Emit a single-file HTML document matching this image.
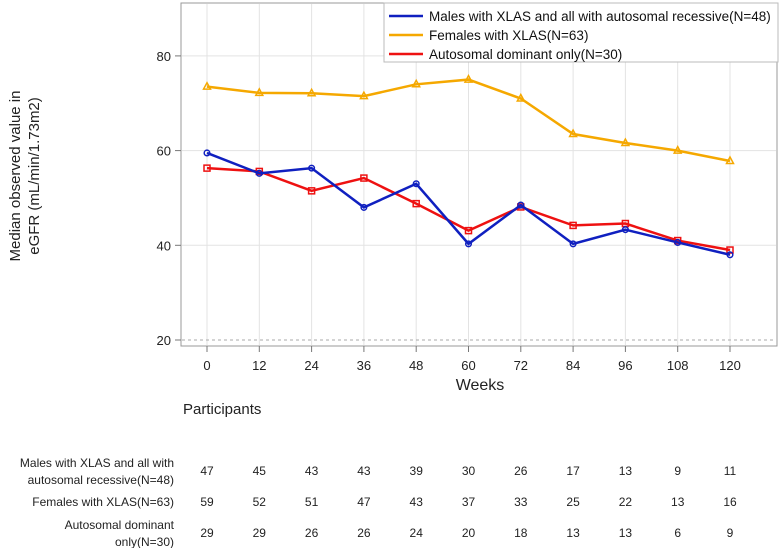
<!DOCTYPE html>
<html><head><meta charset="utf-8"><style>
body{margin:0;background:#fff;}
svg{display:block;font-family:"Liberation Sans",Arial,sans-serif;}
</style></head><body>
<svg id="c" width="782" height="548"></svg>
<script>
const weeks=[0,12,24,36,48,60,72,84,96,108,120];
const yTicks=[20,40,60,80];
const males=[59.5,55.2,56.3,48,53,40.3,48.5,40.3,43.3,40.6,38];
const females=[73.5,72.2,72.1,71.5,74,75,71,63.5,61.6,60,57.8];
const dominant=[56.3,55.6,51.5,54.2,48.8,43.1,48.1,44.2,44.6,41,39];
const nMales=[47,45,43,43,39,30,26,17,13,9,11];
const nFemales=[59,52,51,47,43,37,33,25,22,13,16];
const nDominant=[29,29,26,26,24,20,18,13,13,6,9];
const seriesNames=["Males with XLAS and all with autosomal recessive(N=48)","Females with XLAS(N=63)","Autosomal dominant only(N=30)"];

const NS="http://www.w3.org/2000/svg";
const svg=document.getElementById('c');
const X=w=>207+w*(523/120);
const Y=v=>340-(v-20)*4.735;
function el(t,a,p){const e=document.createElementNS(NS,t);for(const k in a)e.setAttribute(k,a[k]);(p||svg).appendChild(e);return e;}
function txt(s,a,p){const e=el('text',a,p);e.textContent=s;return e;}

// plot frame & grid
const frame=el('rect',{x:181,y:3,width:596,height:343,fill:'#fff',stroke:'#999','stroke-width':1});


weeks.forEach(w=>{
  const g=el('line',{x1:X(w),x2:X(w),y1:4,y2:345,stroke:'#e3e3e3'});
  
  
  const t=el('line',{x1:X(w),x2:X(w),y1:346,y2:352,stroke:'#777'});
  
  
  const l=txt(String(w),{x:X(w),y:370,'text-anchor':'middle','font-size':13,fill:'#222'});
  
  
});
yTicks.forEach(v=>{
  const g=el('line',{x1:182,x2:776,y1:Y(v),y2:Y(v),stroke:v===20?'#aaa':'#e3e3e3','stroke-dasharray':v===20?'3,3':'none'});
  
  
  const t=el('line',{x1:175,x2:181,y1:Y(v),y2:Y(v),stroke:'#777'});
  
  
  const l=txt(String(v),{x:171,y:Y(v)+5,'text-anchor':'end','font-size':13,fill:'#222'});
  
  
});
const xt=txt('Weeks',{x:480,y:390,'text-anchor':'middle','font-size':16,fill:'#222'});


const yt=txt('',{transform:'translate(20,176) rotate(-90)','text-anchor':'middle','font-size':15,fill:'#222'});


el('tspan',{x:0,dy:0},yt).textContent='Median observed value in';
el('tspan',{x:0,dy:19},yt).textContent='eGFR (mL/min/1.73m2)';

function series(vals,color,marker,name){
  const g=el('g',{});
  
  
  el('polyline',{points:vals.map((v,i)=>X(weeks[i])+','+Y(v)).join(' '),fill:'none',stroke:color,'stroke-width':2.5},g);
  vals.forEach((v,i)=>{
    const x=X(weeks[i]),y=Y(v);let m;
    if(marker==='circle')m=el('circle',{cx:x,cy:y,r:2.8,fill:'none',stroke:color,'stroke-width':1.5},g);
    else if(marker==='square')m=el('rect',{x:x-3,y:y-3,width:6,height:6,fill:'none',stroke:color,'stroke-width':1.5},g);
    else m=el('polygon',{points:`${x},${y-4} ${x-3.5},${y+2.5} ${x+3.5},${y+2.5}`,fill:'none',stroke:color,'stroke-width':1.5},g);
    
    
  });
}
series(females,'#f5a800','tri','females-series');
series(dominant,'#ee1111','square','dominant-series');
series(males,'#1020c0','circle','males-series');

// legend
const lg=el('g',{});


el('rect',{x:384,y:3,width:394,height:59,fill:'#fff',stroke:'#bbb'},lg);
['#1020c0','#f5a800','#ee1111'].forEach((c,i)=>{
  const y=16+i*19;
  el('line',{x1:389,x2:423,y1:y,y2:y,stroke:c,'stroke-width':2.5},lg);
  const t=txt(seriesNames[i],{x:429,y:y+5,'font-size':13.5,fill:'#111'},lg);
  
  
});

// table
const pt=txt('Participants',{x:183,y:414,'font-size':15,fill:'#222'});


const rows=[[nMales,['Males with XLAS and all with','autosomal recessive(N=48)'],470],[nFemales,['Females with XLAS(N=63)'],501],[nDominant,['Autosomal dominant','only(N=30)'],532]];
rows.forEach(([vals,lab,y])=>{
  lab.forEach((s,j)=>{
    const t=txt(s,{x:174,y:y+5+(lab.length===2?(j===0?-8:9):0),'text-anchor':'end','font-size':12,fill:'#222'});
    
    
  });
  vals.forEach((v,i)=>{
    const t=txt(String(v),{x:X(weeks[i]),y:y+5,'text-anchor':'middle','font-size':12,fill:'#222'});
    
    
  });
});
</script>
</body></html>
